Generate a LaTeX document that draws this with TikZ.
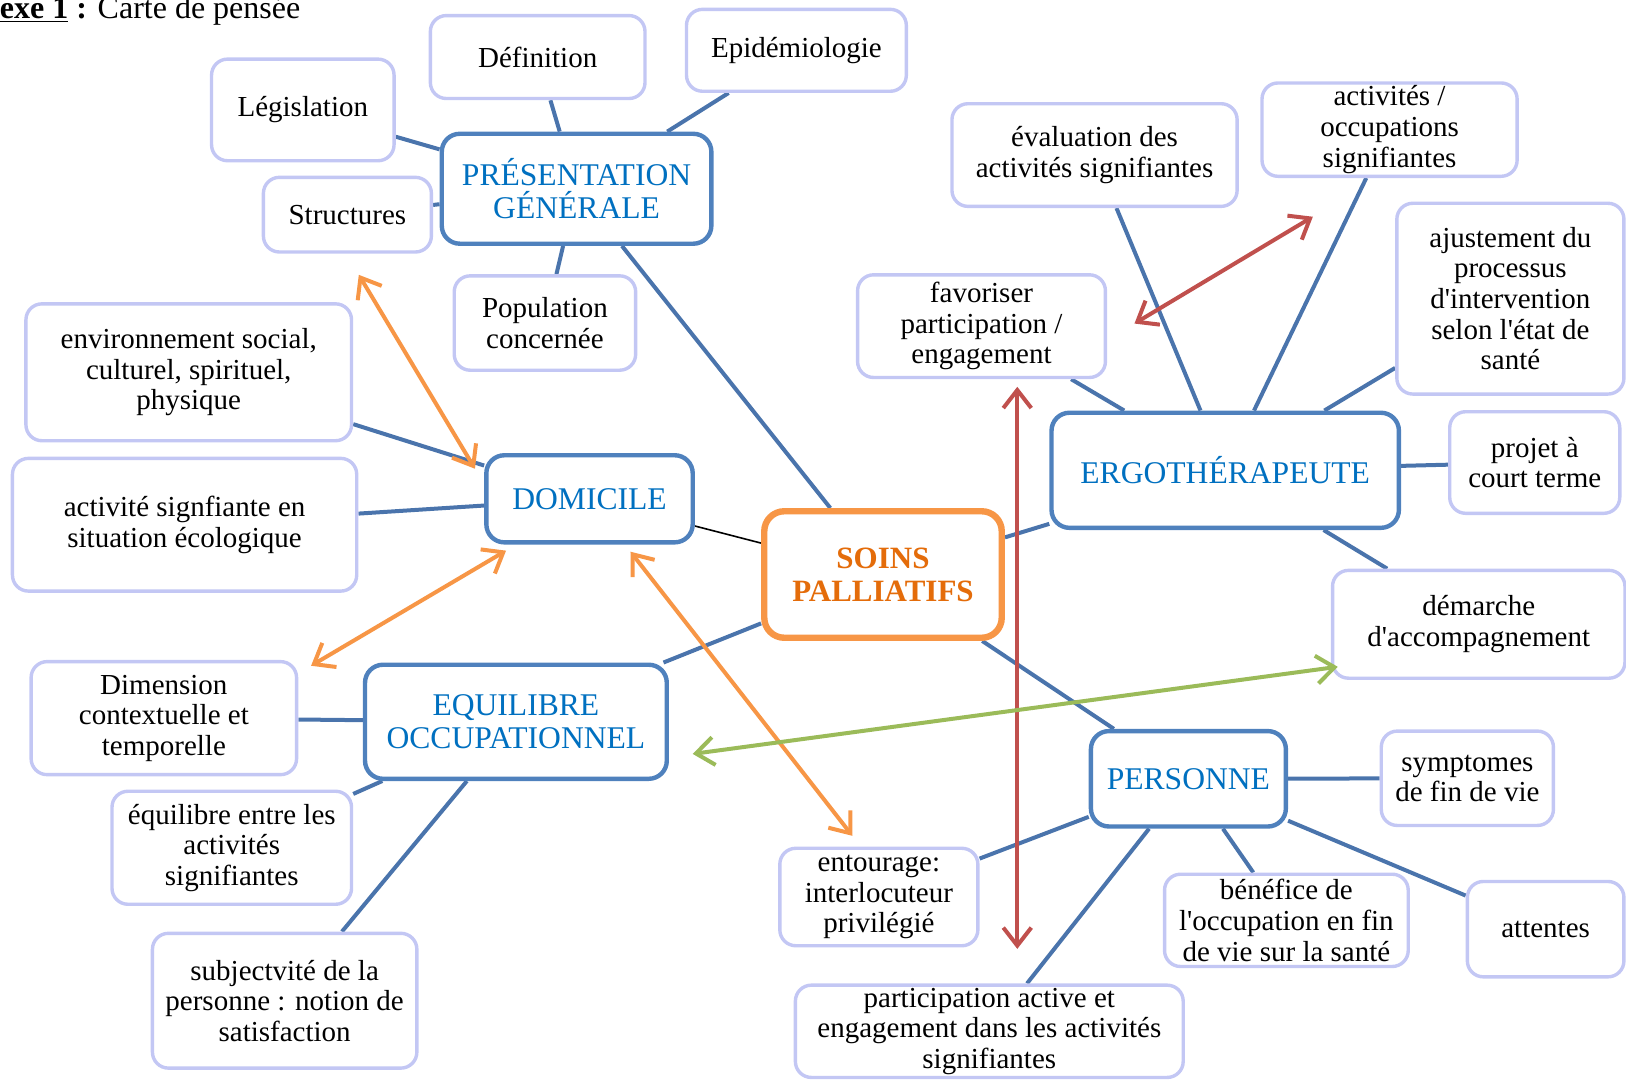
\documentclass[tikz,border=0pt]{standalone}
\usepackage{fontspec}
\setmainfont{Liberation Serif}[Ligatures=TeXOff]
\usetikzlibrary{arrows.meta,backgrounds}
\definecolor{lav}{HTML}{C3C7F4}
\definecolor{bblue}{HTML}{4F81BD}
\definecolor{tblue}{HTML}{0070C0}
\definecolor{ored}{HTML}{F79646}
\definecolor{otext}{HTML}{E46C0A}
\definecolor{lnk}{HTML}{4A74AC}
\definecolor{ared}{HTML}{C0504D}
\definecolor{agreen}{HTML}{9BBB59}
\newcommand\bx[7]{\node[#6, minimum width={(#4-#2)*0.5185pt}, minimum height={(#5-#3)*0.5185pt}] (#1) at ({(#2+#4)/2},{(#3+#5)/2}) {#7};}
\tikzset{
  leaf/.style={draw=lav, line width=1.7pt, rounded corners=8pt, fill=white, align=center, inner sep=1pt, font=\fontsize{14.5}{15.3}\selectfont},
  hub/.style={draw=bblue, line width=2.2pt, rounded corners=9pt, fill=white, align=center, inner sep=1pt, text=tblue, font=\fontsize{15.8}{16.6}\selectfont},
  core/.style={draw=ored, line width=3.2pt, rounded corners=10pt, fill=white, align=center, inner sep=1pt, text=otext, font=\bfseries\fontsize{15.5}{16.6}\selectfont},
  link/.style={draw=lnk, line width=2pt},
  dbl/.style={line width=2pt, {Straight Barb[length=9pt,width=14pt]}-{Straight Barb[length=9pt,width=14pt]}}
}
\begin{document}
\begin{tikzpicture}[x=0.5185pt,y=-0.5185pt]
\useasboundingbox (0,0) rectangle (1568,1041);
\node[anchor=base west, font=\fontsize{16}{18}\selectfont, inner sep=0pt] (title) at (-57,18) {\textbf{\underline{Annexe 1} :} Carte de pensée};
% boxes
\bx{def}{415}{15}{622}{95}{leaf}{Définition}
\bx{epi}{662}{9}{874}{88}{leaf}{Epidémiologie}
\bx{leg}{204}{57}{380}{155}{leaf}{Législation}
\bx{str}{254}{171}{416}{243}{leaf}{Structures}
\bx{pres}{426}{129}{686}{235}{hub}{PRÉSENTATION\\GÉNÉRALE}
\bx{pop}{438}{266}{613}{357}{leaf}{Population\\concernée}
\bx{env}{25}{293}{339}{425}{leaf}{environnement social,\\culturel, spirituel,\\physique}
\bx{act}{12}{442}{344}{570}{leaf}{activité signfiante en\\situation écologique}
\bx{dom}{469}{439}{668}{523}{hub}{DOMICILE}
\bx{soins}{737}{493}{966}{615}{core}{SOINS\\PALLIATIFS}
\bx{dim}{30}{638}{286}{747}{leaf}{Dimension\\contextuelle et\\temporelle}
\bx{equi}{352}{641}{643}{751}{hub}{EQUILIBRE\\OCCUPATIONNEL}
\bx{eqa}{108}{763}{339}{872}{leaf}{équilibre entre les\\activités\\signifiantes}
\bx{subj}{147}{900}{402}{1030}{leaf}{subjectvité de la\\personne : notion de\\satisfaction}
\bx{eval}{918}{100}{1193}{199}{leaf}{évaluation des\\activités signifiantes}
\bx{occ}{1217}{80}{1463}{170}{leaf}{activités /\\occupations\\signifiantes}
\bx{fav}{827}{265}{1066}{364}{leaf}{favoriser\\participation /\\engagement}
\bx{aju}{1347}{196}{1566}{380}{leaf}{ajustement du\\processus\\d'intervention\\selon l'état de\\santé}
\bx{ergo}{1014}{398}{1349}{509}{hub}{ERGOTHÉRAPEUTE}
\bx{proj}{1398}{397}{1562}{495}{leaf}{projet à\\court terme}
\bx{dem}{1285}{550}{1567}{654}{leaf}{démarche\\d'accompagnement}
\bx{pers}{1052}{705}{1240}{797}{hub}{PERSONNE}
\bx{sym}{1332}{705}{1498}{796}{leaf}{symptomes\\de fin de vie}
\bx{ent}{752}{818}{943}{912}{leaf}{entourage:\\interlocuteur\\privilégié}
\bx{ben}{1123}{843}{1358}{932}{leaf}{bénéfice de\\l'occupation en fin\\de vie sur la santé}
\bx{att}{1415}{850}{1566}{942}{leaf}{attentes}
\bx{part}{767}{950}{1141}{1039}{leaf}{participation active et\\engagement dans les activités\\signifiantes}
% connectors
\begin{pgfonlayer}{background}
\draw[link] (def) -- (pres);
\draw[link] (epi) -- (pres);
\draw[link] (leg) -- (pres);
\draw[link] (str) -- (pres);
\draw[link] (pop) -- (pres);
\draw[link] (pres) -- (soins);
\draw[link] (env) -- (dom);
\draw[link] (act) -- (dom);
\draw[black, line width=0.8pt] (dom) -- (soins);
\draw[link] (equi) -- (soins);
\draw[link] (dim) -- (equi);
\draw[link] (eqa) -- (equi);
\draw[link] (subj) -- (equi);
\draw[link] (soins) -- (ergo);
\draw[link] (soins) -- (pers);
\draw[link] (ergo) -- (eval);
\draw[link] (ergo) -- (occ);
\draw[link] (ergo) -- (fav);
\draw[link] (ergo) -- (aju);
\draw[link] (ergo) -- (proj);
\draw[link] (ergo) -- (dem);
\draw[link] (pers) -- (sym);
\draw[link] (pers) -- (ent);
\draw[link] (pers) -- (ben);
\draw[link] (pers) -- (att);
\draw[link] (pers) -- (part);
\end{pgfonlayer}
% arrows
\coordinate (o1a) at (346,265); \coordinate (o1b) at (458,452);
\coordinate (o2a) at (488,531); \coordinate (o2b) at (300,642);
\coordinate (o3a) at (608,532); \coordinate (o3b) at (822,806);
\coordinate (r1a) at (981,373); \coordinate (r1b) at (981,915);
\coordinate (r2a) at (1266,209); \coordinate (r2b) at (1094,312);
\coordinate (g1a) at (1290,643); \coordinate (g1b) at (668,727);
\draw[dbl, ored] (o1a) -- (o1b);
\draw[dbl, ored] (o2a) -- (o2b);
\draw[dbl, ored] (o3a) -- (o3b);
\draw[dbl, ared] (r1a) -- (r1b);
\draw[dbl, ared] (r2a) -- (r2b);
\draw[dbl, agreen] (g1a) -- (g1b);
\end{tikzpicture}
\end{document}
